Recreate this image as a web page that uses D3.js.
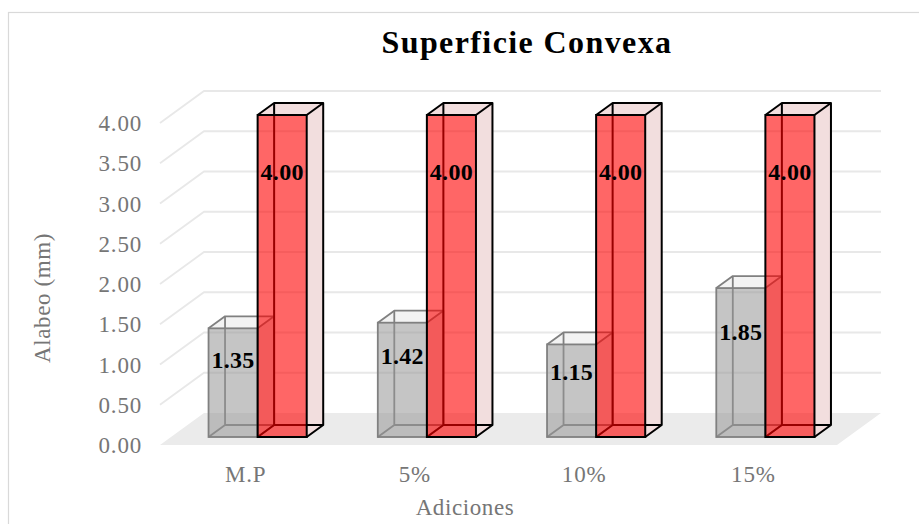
<!DOCTYPE html>
<head>
    <meta charset="utf-8">
    <script src="https://d3js.org/d3.v7.min.js"></script>
    <style>
        body {
            margin: 0;
            background: #fff;
            font-family: "Liberation Serif", "Times New Roman", serif;
        }
        .tick-label { font-size: 23px; fill: #767676; letter-spacing: 0.8px; }
        .axis-title { font-size: 23px; fill: #767676; letter-spacing: 0.6px; }
        .data-label { font-size: 24px; font-weight: bold; fill: #000; letter-spacing: 0.3px; }
    </style>
</head>
<body>
<script>
    // chart values
    var categories = ["M.P", "5%", "10%", "15%"];
    var seriesA = [1.35, 1.42, 1.15, 1.85];   // grey bars
    var seriesB = [4.00, 4.00, 4.00, 4.00];   // red bars
    var yTicks = [0, 0.5, 1, 1.5, 2, 2.5, 3, 3.5, 4];

    var width = 919, height = 524;

    // front plane of the floor + depth of the 3d box
    var floorLeft = 160, floorRight = 837,
        depthX = 44, depthY = -32;

    var svg = d3.select("body").append("svg")
        .attr("width", width)
        .attr("height", height);

    // outer chart border (runs off the right / bottom edge)
    svg.append("rect")
        .attr("x", 8.5).attr("y", 12.5)
        .attr("width", 940).attr("height", 560)
        .attr("fill", "none")
        .attr("stroke", "#d9d9d9")
        .attr("stroke-width", 1.2);

    var y = d3.scaleLinear().domain([0, 4]).range([445, 123]);
    var x = d3.scaleBand().domain(categories).range([floorLeft, floorRight]);

    // projection: (screen x on front plane, value, depth 0..1)
    function P(px, v, z) {
        return [px + z * depthX, y(v) + z * depthY];
    }

    // floor
    svg.append("path")
        .attr("d", d3.line()([P(floorLeft, 0, 0), P(floorRight, 0, 0), P(floorRight, 0, 1), P(floorLeft, 0, 1)]))
        .attr("fill", "#ebebeb");

    // gridlines: diagonal on the left wall, then flat along the back wall
    svg.selectAll("path.grid")
        .data(yTicks.filter(function(t) { return t > 0; }))
        .enter().append("path")
        .attr("class", "grid")
        .attr("d", function(t) {
            return d3.line()([P(floorLeft, t, 0), P(floorLeft, t, 1), P(floorRight, t, 1)]);
        })
        .attr("fill", "none")
        .attr("stroke", "#e8e8e8")
        .attr("stroke-width", 1.8);

    // y tick labels
    svg.selectAll("text.tick-label.y")
        .data(yTicks)
        .enter().append("text")
        .attr("class", "tick-label y")
        .attr("x", 142)
        .attr("y", function(t) { return y(t); })
        .attr("dy", "0.35em")
        .attr("text-anchor", "end")
        .text(function(t) { return t.toFixed(2); });

    // category labels
    svg.selectAll("text.tick-label.x")
        .data(categories)
        .enter().append("text")
        .attr("class", "tick-label x")
        .attr("x", function(c) { return x(c) + x.bandwidth() / 2 + 1; })
        .attr("y", 474)
        .attr("dy", "0.35em")
        .attr("text-anchor", "middle")
        .text(function(c) { return c; });

    // 3d boxes
    var barW = x.bandwidth() * 0.29,
        z0 = 0.25, z1 = 0.625, shift = 2;

    function drawBox(g, left, v, style) {
        var r = left + barW;
        var fbl = P(left, 0, z0), fbr = P(r, 0, z0), ftl = P(left, v, z0), ftr = P(r, v, z0),
            bbl = P(left, 0, z1), bbr = P(r, 0, z1), btl = P(left, v, z1), btr = P(r, v, z1);
        var line = d3.line();

        // right side and top faces
        g.append("path").attr("d", line([fbr, bbr, btr, ftr]) + "Z")
            .attr("fill", style.side);
        g.append("path").attr("d", line([ftl, ftr, btr, btl]) + "Z")
            .attr("fill", style.top);
        // hidden edges, seen through the front face
        g.append("path").attr("d", line([btl, bbl, bbr]) + "M" + fbl + "L" + bbl)
            .attr("fill", "none").attr("stroke", style.edge).attr("stroke-width", style.sw);
        // front face
        g.append("rect")
            .attr("x", fbl[0]).attr("y", ftl[1])
            .attr("width", barW).attr("height", fbl[1] - ftl[1])
            .attr("fill", style.front)
            .attr("stroke", style.edge).attr("stroke-width", style.sw);
        // visible outline edges
        g.append("path").attr("d", line([ftl, btl, btr, ftr]) + "M" + btr + "L" + bbr + "L" + fbr)
            .attr("fill", "none").attr("stroke", style.edge)
            .attr("stroke-width", style.sw).attr("stroke-linejoin", "round");
    }

    var greyStyle = { side: "#e2e2e2", top: "#f3f3f3", front: "rgba(150,150,150,0.55)", edge: "#808080", sw: 1.8 },
        redStyle = { side: "#f2dede", top: "#f2dede", front: "rgba(255,0,0,0.6)", edge: "#000", sw: 2 };

    categories.forEach(function(c, i) {
        var start = x(c) + x.bandwidth() / 2 - barW + shift;
        var g = svg.append("g").attr("class", "bars");
        drawBox(g, start, seriesA[i], greyStyle);
        drawBox(g, start + barW, seriesB[i], redStyle);
    });

    // data labels
    categories.forEach(function(c, i) {
        var start = x(c) + x.bandwidth() / 2 - barW + shift;
        var fa = P(start + barW / 2, seriesA[i], z0),
            fb = P(start + barW * 1.5, seriesB[i], z0);
        var hA = y(0) - y(seriesA[i]);
        svg.append("text").attr("class", "data-label")
            .attr("x", fa[0]).attr("y", fa[1] + hA * 0.29)
            .attr("dy", "0.35em").attr("text-anchor", "middle")
            .text(seriesA[i].toFixed(2));
        svg.append("text").attr("class", "data-label")
            .attr("x", fb[0]).attr("y", fb[1] + 57)
            .attr("dy", "0.35em").attr("text-anchor", "middle")
            .text(seriesB[i].toFixed(2));
    });

    // titles
    svg.append("text")
        .attr("x", 527).attr("y", 42)
        .attr("dy", "0.35em")
        .attr("text-anchor", "middle")
        .style("font-size", "32px").style("font-weight", "bold")
        .style("letter-spacing", "1.4px")
        .text("Superficie Convexa");

    svg.append("text").attr("class", "axis-title")
        .attr("transform", "translate(42,298) rotate(-90)")
        .attr("dy", "0.35em")
        .attr("text-anchor", "middle")
        .text("Alabeo (mm)");

    svg.append("text").attr("class", "axis-title")
        .attr("x", 465).attr("y", 507)
        .attr("dy", "0.35em")
        .attr("text-anchor", "middle")
        .text("Adiciones");
</script>
</body>
